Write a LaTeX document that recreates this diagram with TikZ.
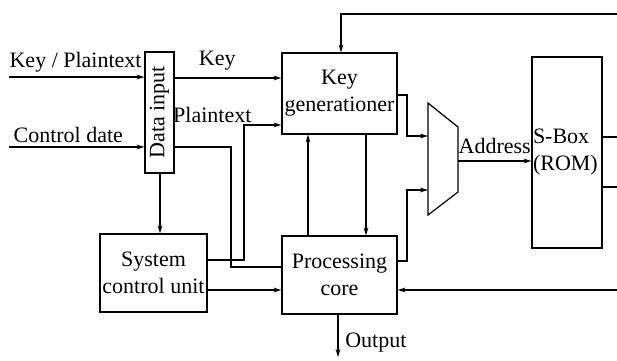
\documentclass[tikz,border=0pt]{standalone}
\usepackage{fontspec}
\setmainfont{Liberation Serif}
\usetikzlibrary{arrows.meta,calc}

\begin{document}
\begin{tikzpicture}[>={Stealth[length=4pt,width=2.4pt]},x=0.5pt,y=-0.5pt,
   line width=0.6pt,
   every node/.style={font=\fontsize{11}{13.5}\selectfont},
   box/.style={draw,align=center,inner sep=1pt}]
  \useasboundingbox (0,0) rectangle (617,360);
  \node[box,minimum width=14.5pt,minimum height=60.5pt,
    label={[rotate=90]center:Data input}] (datain) at (159.5,112.5) {};
  \node[box,minimum width=57.5pt,minimum height=40.5pt] (keygen) at (339.5,93.5) {Key\\generationer};
  \node[box,minimum width=57.5pt,minimum height=39pt] (core) at (339.5,275) {Processing\\core};
  \node[box,minimum width=53.5pt,minimum height=39pt] (sysctl) at (153.5,273) {System\\control unit};
  \node[box,minimum width=35pt,minimum height=95.5pt,
    label={[anchor=west,align=left,inner sep=0.5pt]west:S-Box\\(ROM)}] (sbox) at (567,152.5) {};
  \draw (428,103) -- (458,127) -- (458,192) -- (428,215) -- cycle;
  \coordinate (muxa) at (428,136);
  \coordinate (muxb) at (428,190);
  \coordinate (muxo) at (458,161);
  \coordinate (kpin) at (9,77);
  \coordinate (ctin) at (9,147);
  \coordinate (topfb) at (617,14);
  \coordinate (botfb) at (617,290);
  \coordinate (sbo1) at (617,137);
  \coordinate (sbo2) at (617,187);
  \coordinate (outend) at (338,357);

  \draw[->] (kpin) -- (kpin -| datain.west) node[pos=0,above right,inner sep=2pt,xshift=-2pt] {Key / Plaintext};
  \draw[->] (ctin) -- (ctin -| datain.west) node[pos=0,above right,inner sep=2pt] {Control date};
  \draw[->] (datain.east |- 0,78) -- node[above,pos=0.4]{Key} (keygen.west |- 0,78);
  \draw (datain.east |- 0,147) -| (231,267) -- (core.west |- 0,267);
  \draw[->] (sysctl.east |- 0,260) -| (244,125)
    node[anchor=south east,inner sep=1pt,xshift=5pt]{Plaintext} -- (keygen.west |- 0,125);
  \draw[->] (sysctl.east |- 0,290) -- (core.west |- 0,290);
  \draw[->] (datain.south -| 160,0) -- (sysctl.north -| 160,0);
  \draw[->] (core.north -| 308,0) -- (keygen.south -| 308,0);
  \draw[->] (keygen.south -| 366,0) -- (core.north -| 366,0);
  \draw[->] (keygen.east |- 0,95) -| (407,136) -- (muxa);
  \draw[->] (core.east |- 0,261) -| (407,190) -- (muxb);
  \draw[->] (muxo) -- node[above]{Address} (muxo -| sbox.west);
  \draw[->] (topfb) -| (keygen.north -| 341,0);
  \draw[->] (botfb) -- (botfb -| core.east);
  \draw (sbo1 -| sbox.east) -- (sbo1);
  \draw (sbo2 -| sbox.east) -- (sbo2);
  \draw[->] (core.south -| 338,0) -- node[pos=0.67,right]{Output} (outend);
\end{tikzpicture}
\end{document}
